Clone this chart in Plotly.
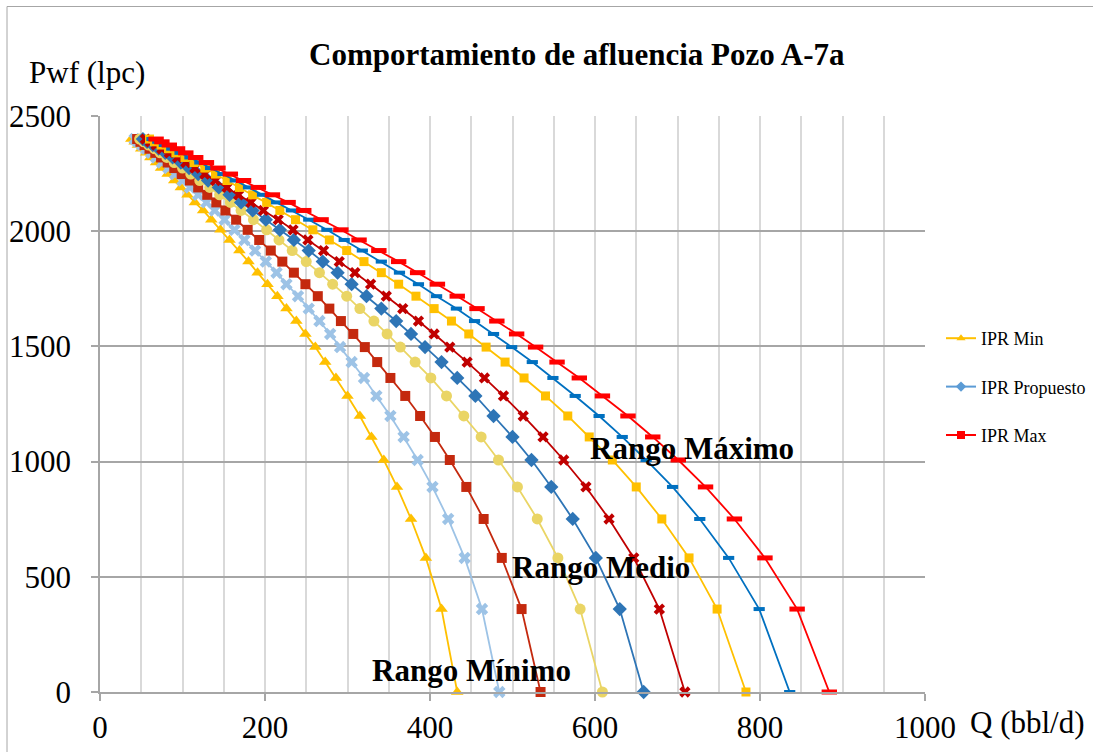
import plotly.graph_objects as go

# Shared flowing-pressure levels (psi)
pwf = [2400, 2388, 2374, 2358, 2340, 2320, 2298, 2274, 2248, 2220, 2190, 2158, 2125, 2090,
       2050, 2006, 1962, 1916, 1868, 1820, 1770, 1718, 1664, 1610, 1554, 1497, 1432, 1363,
       1285, 1198, 1107, 1007, 890, 751, 582, 360, 0]

# Flow rate (bbl/d) for each of the nine curves, left to right
q_min_a = [38, 42, 46, 50, 56, 61, 68, 74, 82, 90, 98, 106, 115, 125, 135, 146, 157, 169, 180,
           191, 203, 215, 226, 238, 249, 261, 273, 286, 300, 315, 329, 344, 360, 377, 395, 414, 433]
q_min_b = [42, 46, 51, 56, 62, 68, 75, 83, 91, 100, 109, 119, 129, 139, 151, 163, 175, 188, 201,
           214, 226, 240, 253, 266, 279, 291, 305, 320, 335, 352, 368, 385, 403, 422, 442, 463, 484]
q_min_c = [45, 49, 54, 60, 67, 74, 82, 90, 99, 109, 119, 130, 141, 152, 165, 179, 193, 207, 221,
           235, 249, 264, 278, 292, 307, 321, 336, 352, 370, 388, 406, 424, 444, 465, 487, 511, 534]
q_med_a = [48, 53, 59, 66, 73, 81, 90, 100, 110, 121, 133, 145, 158, 171, 186, 202, 217, 233, 250,
           266, 282, 299, 315, 332, 348, 364, 382, 401, 420, 441, 462, 483, 506, 530, 555, 582, 609]
q_med_b = [52, 57, 64, 71, 79, 88, 98, 108, 119, 131, 144, 157, 171, 185, 201, 218, 235, 253, 270,
           288, 305, 323, 341, 359, 377, 394, 414, 433, 455, 477, 500, 523, 547, 573, 601, 630, 659]
q_med_c = [55, 61, 68, 75, 84, 94, 104, 115, 127, 140, 154, 168, 183, 198, 216, 234, 252, 271, 290,
           309, 328, 347, 367, 386, 405, 424, 445, 466, 489, 513, 537, 562, 589, 617, 647, 678, 709]
q_max_a = [60, 66, 74, 83, 92, 103, 114, 127, 140, 154, 169, 185, 202, 218, 237, 258, 278, 299, 320,
           341, 362, 383, 405, 426, 447, 468, 491, 514, 540, 567, 593, 621, 650, 681, 714, 748, 783]
q_max_b = [63, 70, 78, 87, 97, 109, 121, 134, 149, 164, 180, 197, 214, 232, 253, 275, 296, 318, 341,
           363, 386, 408, 432, 454, 477, 499, 524, 549, 576, 605, 633, 662, 694, 727, 762, 799, 836]
q_max_c = [68, 75, 84, 94, 104, 116, 129, 143, 158, 174, 192, 209, 228, 247, 268, 292, 314, 338, 362,
           385, 409, 433, 457, 481, 505, 528, 554, 581, 609, 640, 670, 701, 734, 769, 806, 845, 884]

legend_names = ["IPR Min", "IPR Propuesto", "IPR Max"]
range_labels = ["Rango Máximo", "Rango Medio", "Rango Mínimo"]
range_q = [717, 607, 450]
range_p = [1059, 542, 95]

FONT = "Liberation Serif, Times New Roman, serif"

curves = [
    (q_min_a, "#FFC000", dict(symbol="triangle-up", size=11)),
    (q_min_b, "#9DC3E6", dict(symbol="x", size=11)),
    (q_min_c, "#C4290E", dict(symbol="square", size=10)),
    (q_med_a, "#EAD565", dict(symbol="circle", size=11)),
    (q_med_b, "#2E75B6", dict(symbol="diamond", size=11)),
    (q_med_c, "#C00000", dict(symbol="x", size=10)),
    (q_max_a, "#FFC000", dict(symbol="square", size=9)),
    (q_max_b, "#0070C0", dict(symbol="line-ew", size=8)),
    (q_max_c, "#FF0000", dict(symbol="line-ew", size=11)),
]

fig = go.Figure()
for q, col, mk in curves:
    m = dict(mk, color=col)
    if mk["symbol"] == "line-ew":
        m["line"] = dict(color=col, width=4 if mk["size"] < 10 else 5)
    fig.add_trace(go.Scatter(x=q, y=pwf, mode="lines+markers",
                             line=dict(color=col, width=1.8), marker=m,
                             showlegend=False, cliponaxis=False, hoverinfo="skip"))

legend_style = [("#FFC000", "triangle-up"), ("#5B9BD5", "diamond"), ("#FF0000", "square")]
for i, (name, (col, sym)) in enumerate(zip(legend_names, legend_style)):
    fig.add_trace(go.Scatter(x=[None], y=[None], mode="lines+markers", name=name,
                             legendgroup=f"g{i}",
                             line=dict(color=col, width=2),
                             marker=dict(symbol=sym, color=col, size=8)))

for txt, xq, yp in zip(range_labels, range_q, range_p):
    fig.add_annotation(x=xq, y=yp, xref="x", yref="y", text=f"<b>{txt}</b>",
                       xanchor="center", yanchor="middle",
                       showarrow=False, font=dict(family=FONT, size=31, color="black"))

fig.add_annotation(x=(577 - 100) / 825, y=(692 - 54) / 576, xref="paper", yref="paper",
                   xanchor="center", yanchor="middle",
                   text="<b>Comportamiento de afluencia Pozo A-7a</b>", showarrow=False,
                   font=dict(family=FONT, size=31, color="black"))
fig.add_annotation(x=(87 - 100) / 825, y=(692 - 72) / 576, xref="paper", yref="paper",
                   xanchor="center", yanchor="middle",
                   text="Pwf (lpc)", showarrow=False,
                   font=dict(family=FONT, size=31, color="black"))
fig.add_annotation(x=(1027 - 100) / 825, y=(692 - 722) / 576, xref="paper", yref="paper",
                   xanchor="center", yanchor="middle",
                   text="Q (bbl/d)", showarrow=False,
                   font=dict(family=FONT, size=31, color="black"))

fig.add_shape(type="rect", xref="paper", yref="paper",
              x0=(7 - 100) / 825, x1=(1110 - 100) / 825,
              y0=(692 - 770) / 576, y1=(692 - 6.5) / 576,
              line=dict(color="#A6A6A6", width=1), fillcolor="rgba(0,0,0,0)", layer="below")

fig.update_layout(
    width=1093, height=752,
    margin=dict(l=100, r=168, t=116, b=60, autoexpand=False),
    paper_bgcolor="white", plot_bgcolor="white",
    font=dict(family=FONT, size=31, color="black"),
    legend=dict(x=(941 - 100) / 825, y=(692 - 320) / 576, xanchor="left", yanchor="top",
                font=dict(family=FONT, size=18, color="black"),
                traceorder="grouped", tracegroupgap=22, bgcolor="rgba(0,0,0,0)"),
    xaxis=dict(range=[0, 1000], dtick=200, tick0=0, showgrid=True, gridcolor="#D9D9D9",
               gridwidth=1.5, minor=dict(dtick=50, showgrid=True, gridcolor="#D9D9D9",
                                         gridwidth=1.5, ticks=""),
               ticks="outside", ticklen=7, tickcolor="#A6A6A6", tickwidth=1.5,
               showline=True, linecolor="#A6A6A6", linewidth=1.5, zeroline=False,
               automargin=False, tickfont=dict(family=FONT, size=31)),
    yaxis=dict(range=[0, 2500], dtick=500, tick0=0, showgrid=True, gridcolor="#A6A6A6",
               gridwidth=1.5, ticks="outside", ticklen=7, tickcolor="#A6A6A6", tickwidth=1.5,
               showline=True, linecolor="#A6A6A6", linewidth=1.5, zeroline=False,
               automargin=False, ticklabelstandoff=14, tickfont=dict(family=FONT, size=31)),
)

fig.write_html("out.html")
